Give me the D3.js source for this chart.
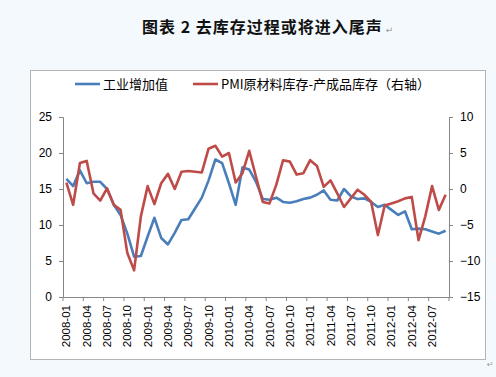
<!DOCTYPE html>
<html>
<head>
<meta charset="utf-8">
<script src="https://cdn.jsdelivr.net/npm/d3@7"></script>
<style>
  body { margin: 0; background: #f4f9fd; }
  svg { display: block; }
</style>
</head>
<body>
<div id="my_dataviz"></div>
<script>
// months on the category axis
var months = [
  "2008-01","2008-02","2008-03","2008-04","2008-05","2008-06","2008-07","2008-08","2008-09","2008-10","2008-11","2008-12",
  "2009-01","2009-02","2009-03","2009-04","2009-05","2009-06","2009-07","2009-08","2009-09","2009-10","2009-11","2009-12",
  "2010-01","2010-02","2010-03","2010-04","2010-05","2010-06","2010-07","2010-08","2010-09","2010-10","2010-11","2010-12",
  "2011-01","2011-02","2011-03","2011-04","2011-05","2011-06","2011-07","2011-08","2011-09","2011-10","2011-11","2011-12",
  "2012-01","2012-02","2012-03","2012-04","2012-05","2012-06","2012-07","2012-08","2012-09"
];

// 工业增加值 (left axis)
var industry = [
  16.4, 15.4, 17.6, 15.8, 16.0, 16.0, 15.0, 12.8, 11.4, 8.8, 5.6, 5.7,
  8.4, 11.0, 8.2, 7.3, 8.9, 10.7, 10.8, 12.3, 13.8, 16.2, 19.1, 18.6,
  15.8, 12.8, 18.0, 17.7, 16.0, 13.6, 13.5, 13.8, 13.2, 13.1, 13.3, 13.6,
  13.8, 14.2, 14.8, 13.5, 13.4, 15.0, 14.0, 13.6, 13.7, 13.2, 12.5, 12.8,
  12.1, 11.4, 11.9, 9.4, 9.5, 9.4, 9.1, 8.8, 9.2
];

// PMI原材料库存-产成品库存 (right axis)
var pmiGap = [
  0.9, -2.2, 3.6, 3.9, -0.6, -1.6, 0.1, -2.2, -2.9, -8.9, -11.3, -3.8,
  0.4, -2.1, 0.8, 2.1, 0.0, 2.4, 2.5, 2.4, 2.3, 5.6, 6.0, 4.5,
  5.0, 0.9, 2.2, 5.3, 1.7, -1.8, -2.0, 0.6, 4.0, 3.8, 2.0, 2.2,
  4.0, 3.2, 0.3, 1.2, -0.6, -2.5, -1.3, -0.1, -0.8, -1.8, -6.4, -2.3,
  -2.0, -1.7, -1.3, -1.1, -7.1, -3.8, 0.4, -2.9, -0.8
];

var leftTicks = [0, 5, 10, 15, 20, 25];
var rightTicks = [-15, -10, -5, 0, 5, 10];
var seriesNames = ["工业增加值", "PMI原材料库存-产成品库存（右轴）"];

const widthValue = 496;
const heightValue = 377;
const plot = { left: 63, right: 449, top: 117, bottom: 297 };
const axisColor = "#868686";
const blue = "#4a7ebb";
const red = "#be4b48";

var svg = d3.select("#my_dataviz")
    .append("svg")
    .attr("width", widthValue)
    .attr("height", heightValue);

// title
var title = svg.append("text")
    .attr("x", 142)
    .attr("y", 33)
    .text("图表 2  去库存过程或将进入尾声")
    .attr("font-family", "'Noto Sans CJK SC', sans-serif")
    .attr("font-weight", "bold")
    .attr("font-size", "16px")
    .attr("letter-spacing", "1px")
    .attr("fill", "#111");
var titleEnd = 142 + title.node().getComputedTextLength();
svg.append("text")
    .attr("x", titleEnd + 3)
    .attr("y", 33)
    .text("↵")
    .attr("font-family", "'DejaVu Sans', sans-serif")
    .attr("font-size", "9px")
    .attr("fill", "#999");

// chart frame
svg.append("rect")
    .attr("x", 30.5)
    .attr("y", 70.5)
    .attr("width", 455)
    .attr("height", 289)
    .attr("fill", "#fff")
    .attr("stroke", "#b4b4b4");

svg.append("text")
    .attr("x", 487)
    .attr("y", 367)
    .text("↵")
    .attr("font-family", "'DejaVu Sans', sans-serif")
    .attr("font-size", "8px")
    .attr("fill", "#999");

// scales
var x = d3.scaleBand()
    .domain(months)
    .range([plot.left, plot.right]);
var cx = function(d, i) { return x(months[i]) + x.bandwidth() / 2; };

var yLeft = d3.scaleLinear()
    .domain([0, 25])
    .range([plot.bottom, plot.top]);
var yRight = d3.scaleLinear()
    .domain([-15, 10])
    .range([plot.bottom, plot.top]);

function styleAxis(g) {
    g.select(".domain").attr("stroke", axisColor);
    g.selectAll(".tick line").attr("stroke", axisColor);
    g.selectAll("text")
        .attr("font-family", "'Liberation Sans', sans-serif")
        .attr("font-size", "12px")
        .attr("fill", "#000");
}

// left axis
svg.append("g")
    .attr("transform", `translate(${plot.left},0)`)
    .call(d3.axisLeft(yLeft).tickValues(leftTicks).tickSize(4).tickPadding(7))
    .call(styleAxis);

// right axis
svg.append("g")
    .attr("transform", `translate(${plot.right},0)`)
    .call(d3.axisRight(yRight).tickValues(rightTicks).tickSize(4).tickPadding(7))
    .call(styleAxis);

// bottom axis: labels on every 3rd month, centred on the category
var labelMonths = months.filter(function(d, i) { return i % 3 === 0; });
var xAxis = svg.append("g")
    .attr("transform", `translate(0,${plot.bottom})`)
    .call(d3.axisBottom(x).tickValues(labelMonths).tickSize(0).tickPadding(0))
    .call(styleAxis);
xAxis.selectAll("text")
    .attr("transform", "rotate(-90)")
    .attr("text-anchor", "end")
    .attr("dy", "0.35em")
    .attr("x", -8)
    .attr("y", 0)
    .attr("font-size", "11.5px");

// tick marks sit on category boundaries every 3 months
var boundaries = labelMonths.map(function(d) { return x(d); }).concat([plot.right]);
svg.append("g")
    .selectAll("line")
    .data(boundaries)
    .enter()
    .append("line")
    .attr("x1", function(d) { return d; })
    .attr("x2", function(d) { return d; })
    .attr("y1", plot.bottom)
    .attr("y2", plot.bottom + 4)
    .attr("stroke", axisColor);

// lines
svg.append("path")
    .datum(industry)
    .attr("d", d3.line()
        .x(cx)
        .y(function(d) { return yLeft(d); })
    )
    .attr("stroke", blue)
    .style("stroke-width", 2.6)
    .style("stroke-linejoin", "round")
    .style("fill", "none");

svg.append("path")
    .datum(pmiGap)
    .attr("d", d3.line()
        .x(cx)
        .y(function(d) { return yRight(d); })
    )
    .attr("stroke", red)
    .style("stroke-width", 2.6)
    .style("stroke-linejoin", "round")
    .style("fill", "none");

// legend
var legend = [
    { name: seriesNames[0], color: blue, x: 75 },
    { name: seriesNames[1], color: red, x: 193 }
];
var lg = svg.append("g")
    .selectAll("g")
    .data(legend)
    .enter()
    .append("g")
    .attr("transform", function(d) { return `translate(${d.x},84)`; });
lg.append("line")
    .attr("x1", 0)
    .attr("x2", 25)
    .attr("stroke", function(d) { return d.color; })
    .style("stroke-width", 2.6);
lg.append("text")
    .attr("x", 28)
    .attr("dy", "0.35em")
    .text(function(d) { return d.name; })
    .attr("font-family", "'Noto Sans CJK SC', sans-serif")
    .attr("font-size", "13px")
    .attr("fill", "#000");
</script>
</body>
</html>
